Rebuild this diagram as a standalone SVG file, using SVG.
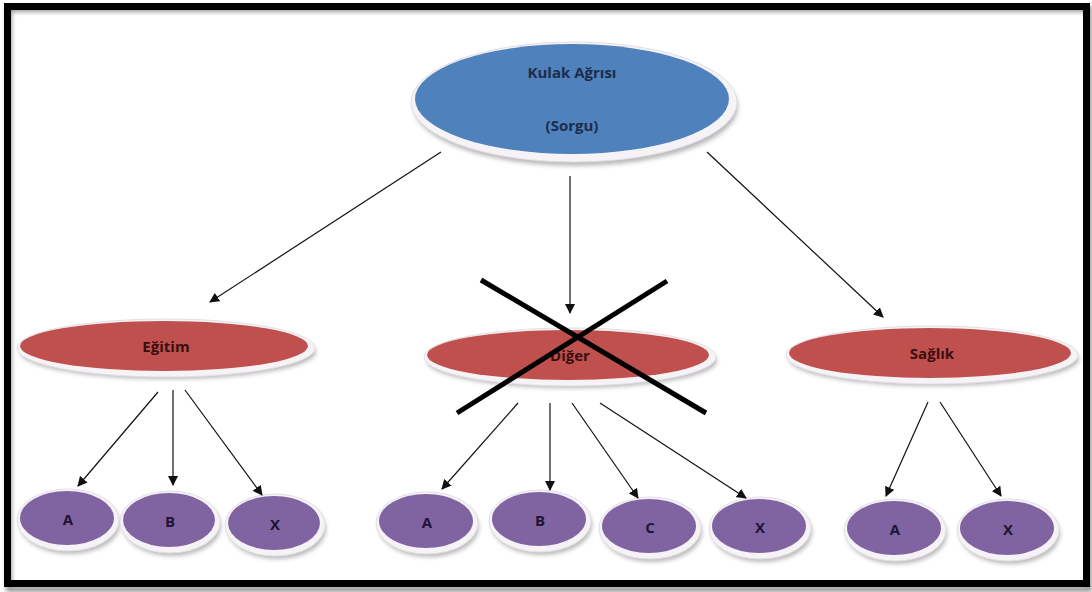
<svg xmlns="http://www.w3.org/2000/svg" width="1092" height="592" viewBox="0 0 1092 592">
  <defs>
    <marker id="arrow" viewBox="0 0 10 10" refX="9" refY="5" markerWidth="10" markerHeight="10" markerUnits="userSpaceOnUse" orient="auto">
      <path d="M0,0 L10,5 L0,10 z" fill="#111"/>
    </marker>
    <filter id="soft" x="-10%" y="-20%" width="120%" height="150%">
      <feGaussianBlur stdDeviation="2"/>
    </filter>
  </defs>
  <style>
    .shadow { fill: #8c8c8c; opacity: 0.6; filter: url(#soft); }
    .rim { fill: #f6f3f6; stroke: #e4dee6; stroke-width: 1; }
    .blue { fill: #4f81bd; }
    .red { fill: #c0504d; }
    .purple { fill: #8064a2; }
    .label { font-family: "Open Sans", "Liberation Sans", sans-serif; font-weight: 700; text-anchor: middle; }
    .l-blue { fill: #1c2c4a; font-size: 15px; }
    .l-red { fill: #3a0f0f; font-size: 15px; }
    .l-purple { fill: #1f1433; font-size: 15px; }
    .conn line { stroke: #111; stroke-width: 1.2; marker-end: url(#arrow); }
    .cross line { stroke: #000; stroke-width: 5; stroke-linecap: butt; }
  </style>

  <rect width="1092" height="592" fill="#ffffff"/>
  <!-- outer frame with a faint drop shadow -->
  <rect x="9" y="9" width="1080" height="580" fill="none" stroke="#9a9a9a" stroke-width="6" filter="url(#soft)"/>
  <rect x="7.5" y="6.5" width="1079" height="577" fill="none" stroke="#000" stroke-width="7"/>

  <!-- query node -->
  <g id="node-kulak">
    <ellipse class="shadow" cx="576" cy="107" rx="162" ry="59"/>
    <ellipse class="rim" cx="574" cy="102" rx="163" ry="60"/>
    <ellipse class="blue" cx="572" cy="99" rx="157" ry="55"/>
    <text class="label l-blue" x="572" y="78">Kulak Ağrısı</text>
    <text class="label l-blue" x="572" y="131">(Sorgu)</text>
  </g>

  <!-- category nodes -->
  <g id="node-egitim">
    <ellipse class="shadow" cx="168" cy="352" rx="148" ry="27"/>
    <ellipse class="rim" cx="166" cy="348" rx="149" ry="29"/>
    <ellipse class="red" cx="164" cy="346" rx="144" ry="25"/>
    <text class="label l-red" x="166" y="352">Eğitim</text>
  </g>
  <g id="node-diger">
    <ellipse class="shadow" cx="572" cy="361" rx="145" ry="27"/>
    <ellipse class="rim" cx="570" cy="357" rx="146" ry="29"/>
    <ellipse class="red" cx="568" cy="355" rx="141" ry="25"/>
    <text class="label l-red" x="570" y="361" font-weight="400">Diğer</text>
  </g>
  <g id="node-saglik">
    <ellipse class="shadow" cx="934" cy="359" rx="145" ry="27"/>
    <ellipse class="rim" cx="932" cy="355" rx="146" ry="29"/>
    <ellipse class="red" cx="930" cy="353" rx="141" ry="25"/>
    <text class="label l-red" x="932" y="359" font-weight="400">Sağlık</text>
  </g>

  <!-- leaf nodes: Eğitim -->
  <g id="node-egitim-a">
    <ellipse class="shadow" cx="70" cy="524" rx="50" ry="30"/>
    <ellipse class="rim" cx="68" cy="520" rx="51" ry="31"/>
    <ellipse class="purple" cx="67" cy="518" rx="47" ry="27"/>
    <text class="label l-purple" x="68" y="525">A</text>
  </g>
  <g id="node-egitim-b">
    <ellipse class="shadow" cx="172" cy="526" rx="49" ry="30"/>
    <ellipse class="rim" cx="170" cy="522" rx="50" ry="31"/>
    <ellipse class="purple" cx="169" cy="520" rx="46" ry="27"/>
    <text class="label l-purple" x="170" y="527">B</text>
  </g>
  <g id="node-egitim-x">
    <ellipse class="shadow" cx="277" cy="529" rx="49" ry="30"/>
    <ellipse class="rim" cx="275" cy="525" rx="50" ry="31"/>
    <ellipse class="purple" cx="274" cy="523" rx="46" ry="27"/>
    <text class="label l-purple" x="275" y="530">X</text>
  </g>

  <!-- leaf nodes: Diğer -->
  <g id="node-diger-a">
    <ellipse class="shadow" cx="429" cy="527" rx="50" ry="30"/>
    <ellipse class="rim" cx="427" cy="523" rx="51" ry="31"/>
    <ellipse class="purple" cx="426" cy="521" rx="47" ry="27"/>
    <text class="label l-purple" x="427" y="528">A</text>
  </g>
  <g id="node-diger-b">
    <ellipse class="shadow" cx="542" cy="525" rx="50" ry="30"/>
    <ellipse class="rim" cx="540" cy="521" rx="51" ry="31"/>
    <ellipse class="purple" cx="539" cy="519" rx="47" ry="27"/>
    <text class="label l-purple" x="540" y="526">B</text>
  </g>
  <g id="node-diger-c">
    <ellipse class="shadow" cx="652" cy="532" rx="50" ry="30"/>
    <ellipse class="rim" cx="650" cy="528" rx="51" ry="31"/>
    <ellipse class="purple" cx="649" cy="526" rx="47" ry="27"/>
    <text class="label l-purple" x="650" y="533">C</text>
  </g>
  <g id="node-diger-x">
    <ellipse class="shadow" cx="762" cy="532" rx="50" ry="30"/>
    <ellipse class="rim" cx="760" cy="528" rx="51" ry="31"/>
    <ellipse class="purple" cx="759" cy="526" rx="47" ry="27"/>
    <text class="label l-purple" x="760" y="533">X</text>
  </g>

  <!-- leaf nodes: Sağlık -->
  <g id="node-saglik-a">
    <ellipse class="shadow" cx="897" cy="534" rx="50" ry="30"/>
    <ellipse class="rim" cx="895" cy="530" rx="51" ry="31"/>
    <ellipse class="purple" cx="894" cy="528" rx="47" ry="27"/>
    <text class="label l-purple" x="895" y="535">A</text>
  </g>
  <g id="node-saglik-x">
    <ellipse class="shadow" cx="1010" cy="534" rx="50" ry="30"/>
    <ellipse class="rim" cx="1008" cy="530" rx="51" ry="31"/>
    <ellipse class="purple" cx="1007" cy="528" rx="47" ry="27"/>
    <text class="label l-purple" x="1008" y="535">X</text>
  </g>

  <!-- connectors -->
  <g id="connectors" class="conn">
    <line x1="441" y1="152" x2="210" y2="302"/>
    <line x1="570" y1="176" x2="570" y2="313"/>
    <line x1="707" y1="152" x2="883" y2="317"/>

    <line x1="158" y1="392" x2="78" y2="486"/>
    <line x1="173" y1="390" x2="173" y2="485"/>
    <line x1="185" y1="390" x2="262" y2="495"/>

    <line x1="518" y1="403" x2="442" y2="489"/>
    <line x1="550" y1="403" x2="550" y2="490"/>
    <line x1="572" y1="403" x2="638" y2="498"/>
    <line x1="600" y1="403" x2="746" y2="498"/>

    <line x1="928" y1="402" x2="886" y2="496"/>
    <line x1="940" y1="402" x2="1001" y2="496"/>
  </g>

  <!-- strike-through over the Diğer category -->
  <g id="cross" class="cross">
    <line x1="481" y1="280" x2="706" y2="413"/>
    <line x1="667" y1="281" x2="457" y2="413"/>
  </g>
</svg>
